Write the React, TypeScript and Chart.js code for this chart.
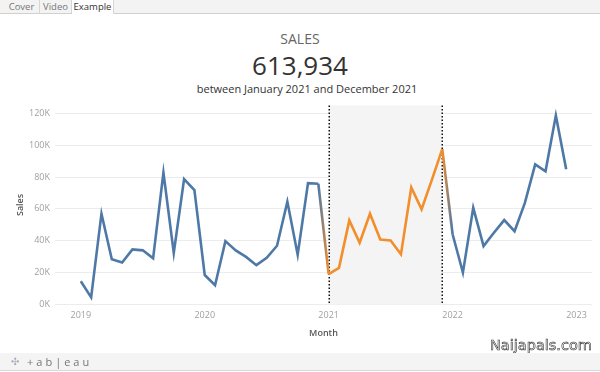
import React, { useEffect, useRef } from "react";
import { Chart, registerables } from "chart.js";

Chart.register(...registerables);

// ---- Data ----
const months: string[] = [
  "Jan 2019", "Feb 2019", "Mar 2019", "Apr 2019", "May 2019", "Jun 2019",
  "Jul 2019", "Aug 2019", "Sep 2019", "Oct 2019", "Nov 2019", "Dec 2019",
  "Jan 2020", "Feb 2020", "Mar 2020", "Apr 2020", "May 2020", "Jun 2020",
  "Jul 2020", "Aug 2020", "Sep 2020", "Oct 2020", "Nov 2020", "Dec 2020",
  "Jan 2021", "Feb 2021", "Mar 2021", "Apr 2021", "May 2021", "Jun 2021",
  "Jul 2021", "Aug 2021", "Sep 2021", "Oct 2021", "Nov 2021", "Dec 2021",
  "Jan 2022", "Feb 2022", "Mar 2022", "Apr 2022", "May 2022", "Jun 2022",
  "Jul 2022", "Aug 2022", "Sep 2022", "Oct 2022", "Nov 2022", "Dec 2022",
];

const sales: number[] = [
  14600, 4500, 57000, 28400, 26400, 34600, 34000, 29000, 82800, 32400, 78700, 71800,
  18500, 12100, 39800, 34000, 29900, 24700, 29300, 36900, 64600, 31300, 76200, 75800,
  19100, 23000, 52800, 38800, 57000, 40800, 40200, 31500, 73500, 59800, 78400, 97500,
  44100, 20000, 60700, 36700, 45000, 53000, 46000, 63800, 88000, 83600, 118600, 84900,
];

const yearTicks: string[] = ["2019", "2020", "2021", "2022", "2023"];
const highlightStart = "Jan 2021";
const highlightEnd = "Dec 2021";

const BLUE = "#4e79a7";
const ORANGE = "#f28e2b";
const FONT = "'Open Sans', sans-serif";

const hs = months.indexOf(highlightStart);
const he = months.indexOf(highlightEnd);

const bandPlugin = {
  id: "band",
  beforeDatasetsDraw(chart: any) {
    const { ctx, chartArea, scales } = chart;
    const x = scales.x;
    const x0 = x.getPixelForValue(hs);
    const x1 = x.getPixelForValue(he);
    ctx.save();
    ctx.fillStyle = "#f4f4f4";
    ctx.fillRect(x0, chartArea.top, x1 - x0, chartArea.bottom - chartArea.top);
    ctx.strokeStyle = "#111";
    ctx.lineWidth = 1.5;
    ctx.setLineDash([1.5, 2]);
    [x0, x1].forEach((px) => {
      ctx.beginPath();
      ctx.moveTo(Math.round(px) + 0.25, chartArea.top);
      ctx.lineTo(Math.round(px) + 0.25, chartArea.bottom);
      ctx.stroke();
    });
    ctx.restore();
  },
};

function SalesChart() {
  const ref = useRef<HTMLCanvasElement | null>(null);
  useEffect(() => {
    if (!ref.current) return;
    const inRange = (i: number) => i >= hs && i <= he;
    const chart = new Chart(ref.current, {
      type: "line",
      data: {
        datasets: [
          {
            label: "Sales",
            data: sales.map((v, i) => ({ x: i, y: v })),
            borderColor: BLUE,
            borderWidth: 2.6,
            pointRadius: 0,
            tension: 0,
            fill: false,
            segment: {
              borderColor: (c: any) => {
                const a = inRange(c.p0DataIndex);
                const b = inRange(c.p1DataIndex);
                if (a && b) return ORANGE;
                if (!a && !b) return BLUE;
                const g = c.chart.ctx.createLinearGradient(c.p0.x, 0, c.p1.x, 0);
                g.addColorStop(0, a ? ORANGE : BLUE);
                g.addColorStop(1, b ? ORANGE : BLUE);
                return g;
              },
            },
          },
        ],
      },
      options: {
        animation: false,
        responsive: true,
        maintainAspectRatio: false,
        layout: { padding: { top: 8, right: 8, left: 0, bottom: 0 } },
        plugins: { legend: { display: false }, tooltip: { enabled: false } },
        scales: {
          x: {
            type: "linear",
            min: -2.5,
            max: 49.5,
            afterBuildTicks: (s: any) => {
              s.ticks = yearTicks.map((_, i) => ({ value: i * 12 }));
            },
            afterFit: (s: any) => {
              s.height = 40.5;
            },
            ticks: {
              autoSkip: false,
              maxRotation: 0,
              padding: 6,
              color: "#a0a0a0",
              font: { family: FONT, size: 9 },
              callback: (v: any) => yearTicks[Math.round(Number(v) / 12)] ?? "",
            },
            grid: { display: false, drawTicks: false },
            border: { display: false },
            title: {
              display: true,
              text: "Month",
              color: "#555",
              font: { family: FONT, size: 9, weight: "600" },
              padding: { top: 0, bottom: 6.6 },
            },
          },
          y: {
            min: 0,
            max: 125000,
            afterBuildTicks: (s: any) => {
              s.ticks = [0, 20000, 40000, 60000, 80000, 100000, 120000].map((v) => ({ value: v }));
            },
            afterFit: (s: any) => {
              s.width = 55;
            },
            ticks: {
              padding: 5,
              color: "#a0a0a0",
              font: { family: FONT, size: 9 },
              callback: (v: any) => `${Number(v) / 1000}K`,
            },
            grid: { color: "#ececec", lineWidth: 1, drawTicks: false, tickLength: 0 },
            border: { display: false },
            title: {
              display: true,
              text: "Sales",
              color: "#555",
              font: { family: FONT, size: 9, weight: "600" },
              padding: { top: 14.6, bottom: 0 },
            },
          },
        },
      },
      plugins: [bandPlugin],
    });
    return () => chart.destroy();
  }, []);
  return <canvas ref={ref} />;
}

export default function App() {
  const tab = (label: string, left: number, width: number, active: boolean) => (
    <div
      style={{
        position: "absolute",
        left,
        top: 0,
        width,
        height: active ? 14 : 13,
        background: active ? "#fff" : "transparent",
        borderRight: "1px solid #d6d6d6",
        boxSizing: "border-box",
        fontSize: 9.5,
        lineHeight: "13px",
        textAlign: "center",
        color: active ? "#333" : "#777",
      }}
    >
      {label}
    </div>
  );
  return (
    <div
      style={{
        position: "fixed",
        left: 0,
        top: 0,
        width: 600,
        height: 372,
        background: "#fff",
        overflow: "hidden",
        fontFamily: FONT,
      }}
    >
      {/* tab bar */}
      <div
        style={{
          position: "absolute",
          left: 0,
          top: 0,
          width: 600,
          height: 13,
          background: "#f3f3f3",
          borderBottom: "1px solid #d0d0d0",
        }}
      />
      {tab("Cover", 4, 36, false)}
      {tab("Video", 40, 32, false)}
      {tab("Example", 72, 42, true)}

      {/* titles */}
      <div style={{ position: "absolute", left: 0, top: 31, width: 600, textAlign: "center", fontSize: 14, lineHeight: "16px", color: "#666" }}>
        SALES
      </div>
      <div style={{ position: "absolute", left: 0, top: 50, width: 600, textAlign: "center", fontSize: 26, lineHeight: "30px", color: "#333" }}>
        613,934
      </div>
      <div style={{ position: "absolute", left: 7, top: 82, width: 600, textAlign: "center", fontSize: 11, lineHeight: "14px", color: "#333" }}>
        between January 2021 and December 2021
      </div>

      {/* chart */}
      <div style={{ position: "absolute", left: 0, top: 95, width: 600, height: 250 }}>
        <SalesChart />
      </div>

      {/* watermark */}
      <div
        style={{
          position: "absolute",
          left: 490,
          top: 336,
          fontFamily: "'DejaVu Sans', sans-serif",
          fontSize: 14.5,
          lineHeight: "18px",
          color: "#fff",
          WebkitTextStroke: "0.6px #333",
        }}
      >
        Naijapals.com
      </div>

      {/* footer */}
      <div
        style={{
          position: "absolute",
          left: 0,
          top: 353,
          width: 600,
          height: 17,
          background: "#f4f4f4",
          borderBottom: "1px solid #d8d8d8",
          fontSize: 11,
          lineHeight: "17px",
          color: "#777",
        }}
      >
        <span style={{ position: "absolute", left: 11, color: "#aab", fontSize: 10, fontFamily: "'DejaVu Sans', sans-serif" }}>✣</span>
        <span style={{ position: "absolute", left: 27, letterSpacing: 3 }}>+ab|eau</span>
      </div>
    </div>
  );
}
